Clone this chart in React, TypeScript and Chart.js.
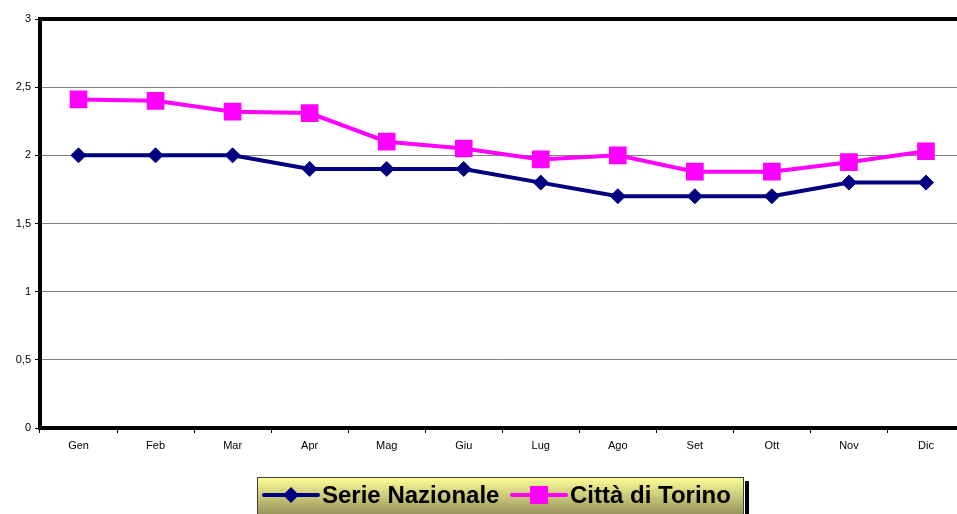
import React, { useEffect, useRef } from "react";
import { Chart, registerables } from "chart.js";

Chart.register(...registerables);

const months = ["Gen", "Feb", "Mar", "Apr", "Mag", "Giu", "Lug", "Ago", "Set", "Ott", "Nov", "Dic"];
const serieNazionale = [2.0, 2.0, 2.0, 1.9, 1.9, 1.9, 1.8, 1.7, 1.7, 1.7, 1.8, 1.8];
const cittaTorino = [2.41, 2.4, 2.32, 2.31, 2.1, 2.05, 1.97, 2.0, 1.88, 1.88, 1.95, 2.03];
const seriesLabels = ["Serie Nazionale", "Città di Torino"];
const seriesColors = ["#000080", "#FF00FF"];

const FONT = "Arial, 'Liberation Sans', sans-serif";

const borderPlugin = {
  id: "plotBorder",
  beforeDatasetsDraw(chart: any) {
    const { ctx, chartArea } = chart;
    const { left, right, top, bottom } = chartArea;
    ctx.save();
    ctx.strokeStyle = "#000000";
    ctx.lineWidth = 4;
    ctx.beginPath();
    ctx.moveTo(left, bottom + 2);
    ctx.lineTo(left, top);
    ctx.lineTo(right, top);
    ctx.lineTo(right, bottom);
    ctx.lineTo(left - 2, bottom);
    ctx.stroke();
    ctx.restore();
  },
};

const legendPlugin = {
  id: "customLegend",
  afterDraw(chart: any) {
    const { ctx } = chart;
    const x = 257;
    const y = 477;
    const w = 486;
    const h = 60;
    ctx.save();
    ctx.fillStyle = "#000000";
    ctx.fillRect(x + w + 2, y + 4, 4, h);
    const g = ctx.createLinearGradient(0, y, 0, y + h);
    g.addColorStop(0, "#FFFF99");
    g.addColorStop(0.6, "#9C985E");
    g.addColorStop(1, "#6E6B40");
    ctx.fillStyle = g;
    ctx.fillRect(x, y, w, h);
    ctx.strokeStyle = "#404040";
    ctx.lineWidth = 1;
    ctx.strokeRect(x + 0.5, y + 0.5, w, h);

    const cy = 495;
    const items = [
      { sx: 264, tx: 322, color: seriesColors[0], marker: "diamond", label: chart.data.datasets[0].label },
      { sx: 512, tx: 570, color: seriesColors[1], marker: "square", label: chart.data.datasets[1].label },
    ];
    for (const it of items) {
      ctx.strokeStyle = it.color;
      ctx.lineWidth = 4;
      ctx.lineCap = "round";
      ctx.beginPath();
      ctx.moveTo(it.sx, cy);
      ctx.lineTo(it.sx + 54, cy);
      ctx.stroke();
      ctx.fillStyle = it.color;
      const mx = it.sx + 27;
      if (it.marker === "diamond") {
        ctx.beginPath();
        ctx.moveTo(mx - 8, cy);
        ctx.lineTo(mx, cy - 8);
        ctx.lineTo(mx + 8, cy);
        ctx.lineTo(mx, cy + 8);
        ctx.closePath();
        ctx.fill();
      } else {
        ctx.fillRect(mx - 9, cy - 9, 18, 18);
      }
      ctx.fillStyle = "#000000";
      ctx.font = "bold 24px " + FONT;
      ctx.textBaseline = "middle";
      ctx.textAlign = "left";
      ctx.fillText(it.label, it.tx, cy + 1);
    }
    ctx.restore();
  },
};

export default function App() {
  const canvasRef = useRef<HTMLCanvasElement | null>(null);

  useEffect(() => {
    const canvas = canvasRef.current;
    if (!canvas) return;
    const chart = new Chart(canvas, {
      type: "line",
      data: {
        labels: months,
        datasets: [
          {
            label: seriesLabels[0],
            data: serieNazionale,
            borderColor: seriesColors[0],
            backgroundColor: seriesColors[0],
            borderWidth: 4,
            pointStyle: "rectRot",
            pointRadius: 7.5,
            pointBorderWidth: 1,
            tension: 0,
          },
          {
            label: seriesLabels[1],
            data: cittaTorino,
            borderColor: seriesColors[1],
            backgroundColor: seriesColors[1],
            borderWidth: 4,
            pointStyle: "rect",
            pointRadius: 12.5,
            pointBorderWidth: 0,
            tension: 0,
          },
        ],
      },
      options: {
        responsive: false,
        animation: false,
        events: [],
        layout: { padding: { left: 0, top: 19, right: 2, bottom: 0 } },
        plugins: {
          legend: { display: false },
          tooltip: { enabled: false },
          title: { display: false },
        },
        scales: {
          x: {
            type: "category",
            offset: true,
            grid: {
              offset: true,
              drawOnChartArea: false,
              drawTicks: true,
              tickLength: 5,
              tickColor: "#000000",
            },
            border: { display: false },
            ticks: {
              color: "#000000",
              font: { family: FONT, size: 11 },
              padding: 6,
              maxRotation: 0,
              autoSkip: false,
            },
            afterFit(scale: any) {
              scale.height = 86;
            },
          },
          y: {
            min: 0,
            max: 3,
            grid: {
              color: "#808080",
              lineWidth: 1,
              drawTicks: true,
              tickLength: 5,
              tickColor: "#000000",
            },
            border: { display: false },
            ticks: {
              stepSize: 0.5,
              color: "#000000",
              font: { family: FONT, size: 11 },
              padding: 4,
              callback: (v: any) => String(v).replace(".", ","),
            },
            afterFit(scale: any) {
              scale.width = 40;
            },
          },
        },
      },
      plugins: [borderPlugin, legendPlugin],
    });
    return () => chart.destroy();
  }, []);

  return (
    <div
      style={{
        position: "absolute",
        left: 0,
        top: 0,
        width: 957,
        height: 514,
        overflow: "hidden",
        background: "#ffffff",
      }}
    >
      <canvas ref={canvasRef} width={977} height={514} style={{ display: "block", width: 977, height: 514 }} />
    </div>
  );
}
